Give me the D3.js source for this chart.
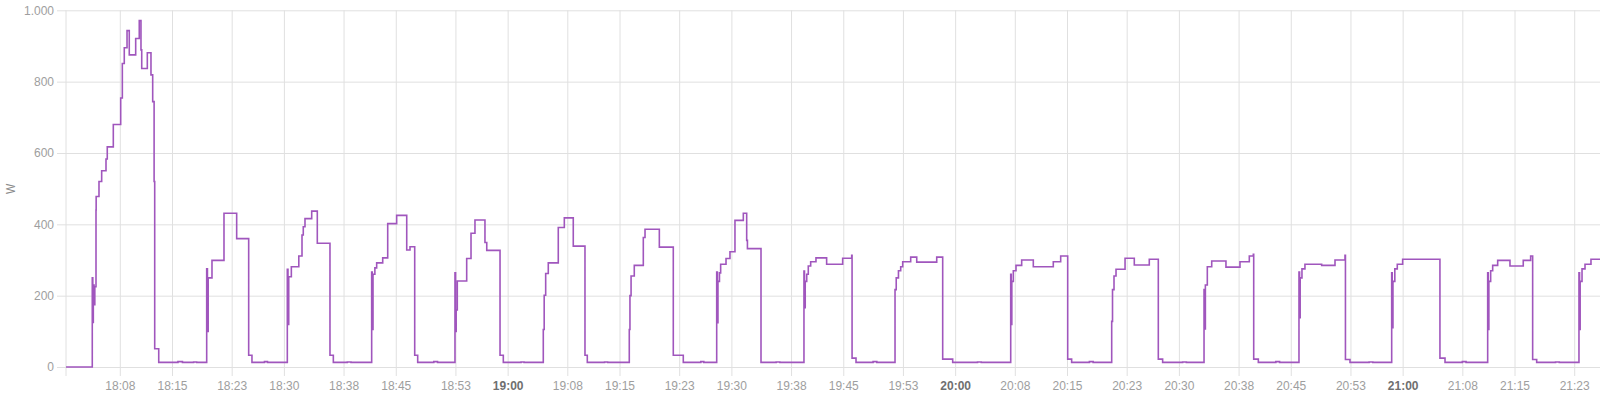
<!DOCTYPE html>
<html>
<head>
<meta charset="utf-8">
<script src="https://cdn.jsdelivr.net/npm/d3@7/dist/d3.min.js"></script>
<style>
  html, body { margin: 0; padding: 0; background: #ffffff; }
  svg { display: block; font-family: Roboto, "Noto Sans", sans-serif; }
</style>
</head>
<body>
<svg id="chart" width="1600" height="396"></svg>
<script>
// ---- data: minutes after 18:00 and power in W ----
const minutes = [
  0.79, 4.31, 4.38, 4.45, 4.55, 4.65, 4.81, 4.83, 5.21, 5.57, 6.15, 6.32, 7.13, 8.12, 8.34, 8.60, 8.97, 9.27, 10.13, 10.61, 10.84, 10.94, 11.69, 12.18, 12.41, 12.60, 12.68, 13.22, 15.8, 16.4, 17.9, 18.3,
  19.65, 19.75, 19.85, 20.36, 21.97, 23.67, 25.28, 25.72, 27.4, 27.8,
  30.46, 30.55, 30.65, 31.0, 32.0, 32.43, 32.6, 32.83, 33.73, 34.48, 36.18, 36.63, 38.5, 39.0,
  41.77, 41.85, 41.95, 42.2, 42.44, 43.25, 43.92, 45.12, 46.47, 46.91, 47.54, 47.94, 50.1, 50.6,
  52.94, 53.02, 53.1, 53.25, 54.51, 55.09, 55.62, 56.96, 57.2, 58.98, 59.42, 61.8, 62.2,
  64.78, 64.9, 65.1, 65.45, 66.79, 67.6, 68.8, 70.37, 70.68, 73.0, 73.4,
  76.31, 76.4, 76.55, 76.98, 78.19, 78.42, 80.34, 82.21, 83.55, 85.9, 86.3,
  88.03, 88.12, 88.2, 88.4, 88.56, 89.28, 89.81, 90.48, 91.6, 92.05, 92.15, 93.97, 96.0, 96.5,
  99.73, 99.8, 99.9, 100.1, 100.31, 100.63, 101.34, 102.77, 104.92, 106.13, 106.18, 106.71, 109.0, 109.5,
  111.94, 112.1, 112.4, 112.7, 112.97, 114.04, 114.85, 117.53, 118.33, 119.67, 123.0, 123.5,
  127.45, 127.52, 127.6, 127.8, 128.16, 128.92, 130.48, 133.16, 134.15, 135.09, 135.62, 138.0, 138.5,
  140.99, 141.1, 141.3, 141.57, 142.78, 144.02, 146.03, 147.24, 147.82, 150.5, 151.0,
  153.37, 153.45, 153.55, 153.81, 154.4, 156.31, 158.19, 159.44, 159.98, 160.03, 160.65, 163.0, 163.5,
  166.1, 166.18, 166.26, 166.5, 166.9, 169.14, 170.93, 172.27, 172.33, 172.94, 175.5, 176.0,
  178.53, 178.6, 178.7, 178.95, 179.28, 180.0, 185.0, 185.68, 188.0, 188.5,
  191.4, 191.48, 191.56, 191.8, 192.07, 192.74, 194.39, 196.17, 197.16, 197.43, 197.97, 200.5, 201.0,
  203.64, 203.72, 203.8, 204.05, 204.45, 205.25, 206.46
];
const watts = [
  0, 250, 125, 230, 175, 225, 440, 478, 520, 550, 583, 617, 680, 754, 851, 895, 943, 875, 921, 971, 889, 837, 881, 819, 744, 520, 51, 13, 15, 13, 14, 13,
  275, 100, 250, 299, 431, 360, 33, 13, 15, 13,
  274, 119, 253, 281, 311, 370, 393, 416, 437, 347, 33, 13, 14, 13,
  266, 105, 260, 278, 292, 306, 402, 425, 328, 337, 33, 13, 15, 13,
  264, 100, 160, 241, 304, 375, 412, 349, 327, 33, 13, 14, 13,
  105, 201, 262, 292, 391, 418, 339, 33, 13, 14, 13,
  105, 200, 255, 285, 363, 386, 336, 33, 13, 15, 13,
  266, 124, 240, 264, 288, 304, 323, 411, 431, 355, 332, 13, 14, 13,
  269, 166, 240, 260, 283, 295, 306, 288, 305, 313, 25, 13, 15, 13,
  217, 250, 270, 281, 295, 308, 294, 308, 22, 13, 14, 13,
  260, 119, 240, 270, 285, 300, 281, 295, 311, 22, 13, 15, 13,
  128, 217, 255, 274, 305, 286, 302, 22, 13, 14, 13,
  217, 107, 230, 281, 297, 280, 295, 311, 316, 22, 13, 15, 13,
  266, 138, 250, 275, 288, 285, 300, 313, 21, 13, 14, 13,
  264, 110, 240, 275, 288, 302, 25, 13, 15, 13,
  264, 105, 240, 270, 285, 299, 283, 299, 311, 21, 13, 14, 13,
  264, 105, 240, 275, 288, 302, 302
];
const yTicks = [0, 200, 400, 600, 800, 1000];
const yTickLabels = ["0", "200", "400", "600", "800", "1.000"];
const xTickLabels = ["18:08", "18:15", "18:23", "18:30", "18:38", "18:45", "18:53", "19:00",
  "19:08", "19:15", "19:23", "19:30", "19:38", "19:45", "19:53", "20:00",
  "20:08", "20:15", "20:23", "20:30", "20:38", "20:45", "20:53", "21:00",
  "21:08", "21:15", "21:23"];
const unitLabel = "W";
const domainStartMin = 0.787;
const domainEndMin = 206.46;

(function () {
  const base = new Date(2024, 0, 1, 18, 0, 0).getTime();
  const toDate = m => new Date(base + m * 60000);
  const parseClock = s => { const [h, mm] = s.split(":").map(Number); return new Date(2024, 0, 1, h, mm, 0); };

  const pL = 66, pR = 1600, pT = 10.3, pB = 367;
  const svg = d3.select("#chart");

  const x = d3.scaleTime().domain([toDate(domainStartMin), toDate(domainEndMin)]).range([pL, pR]);
  const y = d3.scaleLinear().domain([0, 1000]).range([pB, pT]);

  const gridColor = "#e0e0e0";

  // horizontal grid + y labels
  const yAxis = d3.axisLeft(y).tickValues(yTicks)
    .tickFormat((d, i) => yTickLabels[i])
    .tickSize(-(pR - 57)).tickPadding(3);
  const gy = svg.append("g").attr("transform", "translate(57,0)").call(yAxis);
  gy.select(".domain").remove();
  gy.selectAll(".tick line").attr("stroke", gridColor).attr("stroke-width", 1);
  gy.selectAll(".tick text").attr("fill", "#9e9e9e").style("font-size", "12px");

  // vertical grid + x labels
  const xTickDates = xTickLabels.map(parseClock);
  const xAxis = d3.axisBottom(x).tickValues(xTickDates)
    .tickFormat((d, i) => xTickLabels[i])
    .tickSize(9).tickPadding(0);
  const gx = svg.append("g").attr("transform", `translate(0,${pB})`).call(xAxis);
  gx.select(".domain").remove();
  gx.selectAll(".tick line").attr("stroke", gridColor).attr("y1", -(pB - pT)).attr("y2", 9);
  gx.selectAll(".tick text")
    .attr("y", 23).attr("dy", 0)
    .attr("fill", (d, i) => xTickLabels[i].endsWith(":00") ? "#6f6f6f" : "#9e9e9e")
    .style("font-weight", (d, i) => xTickLabels[i].endsWith(":00") ? "bold" : "normal")
    .style("font-size", "12px");

  // left axis line
  svg.append("line").attr("x1", pL).attr("x2", pL).attr("y1", pT).attr("y2", pB + 9)
    .attr("stroke", gridColor);

  // unit label
  svg.append("text").text(unitLabel)
    .attr("transform", "translate(15,189) rotate(-90)")
    .attr("text-anchor", "middle").attr("fill", "#8a8a8a").style("font-size", "12px");

  // line
  const pts = minutes.map((m, i) => [toDate(m), watts[i]]);
  const line = d3.line().x(d => x(d[0])).y(d => y(d[1])).curve(d3.curveStepAfter);
  svg.append("path").datum(pts).attr("d", line)
    .attr("fill", "none").attr("stroke", "#a056bd").attr("stroke-width", 1.6);
})();
</script>
</body>
</html>
